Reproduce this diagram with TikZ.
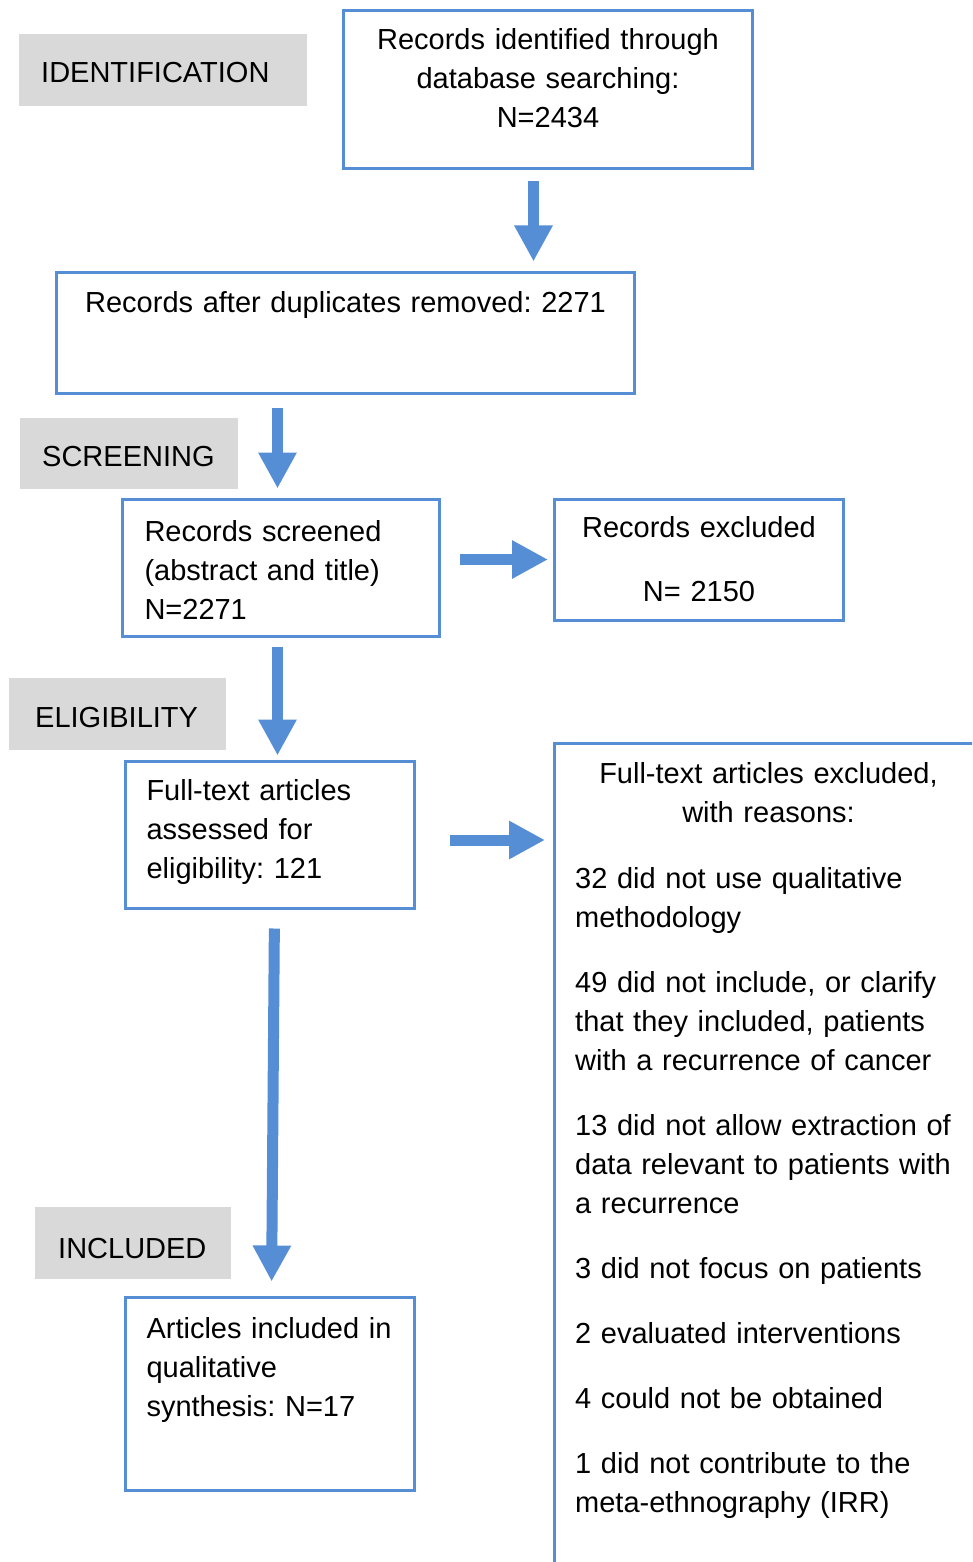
\documentclass[tikz,border=0pt]{standalone}
\usepackage{fontspec}
\setmainfont{Liberation Sans}
\usetikzlibrary{arrows.meta}
\definecolor{flowblue}{RGB}{85,142,213}
\frenchspacing

\begin{document}
\begin{tikzpicture}[x=1pt, y=-1pt,
    txt/.style={font=\fontsize{29}{39}\selectfont, inner xsep=22pt, inner ysep=0pt, anchor=base west},
    box/.style={txt, draw=flowblue, line width=3pt},
    stage/.style={txt, fill=black!15, align=left},
    fat/.style={draw=flowblue, line width=11pt, -{Triangle[length=36pt, width=36pt]}}]
    \useasboundingbox (0,0) rectangle (972,1562);
    \clip (0,0) rectangle (972,1562);
    % Stage labels
    \node[stage, text width=244pt, text height=49pt, text depth=23pt] (ident) at (19,83) {IDENTIFICATION};
    \node[stage, text width=174pt, text height=48pt, text depth=23pt] (screen) at (20,466) {SCREENING};
    \node[stage, inner xsep=26pt, text width=165pt, text height=49pt, text depth=23pt] (elig) at (9,727) {ELIGIBILITY};
    \node[stage, inner xsep=23pt, text width=150pt, text height=51pt, text depth=21pt] (incl) at (35,1258) {INCLUDED};
    % Flow boxes
    \node[box, align=center, text width=365pt, text height=39pt, text depth=119pt] (found) at (342,50) {Records identified through\\ database searching:\\ N=2434};
    \node[box, align=center, text width=534pt, text height=40pt, text depth=81pt] (dedup) at (55,312) {Records after duplicates removed: 2271};
    \node[box, align=left, text width=273pt, text height=42pt, text depth=95pt] (screened) at (121,541) {Records screened\\ (abstract and title)\\ N=2271};
    \node[box, align=center, text width=245pt, text height=38pt, text depth=83pt] (excl) at (553,537) {Records excluded\\[25pt] N= 2150};
    \node[box, align=left, inner xsep=21pt, text width=247pt, text height=39pt, text depth=108pt] (full) at (124,800) {Full-text articles\\ assessed for\\ eligibility: 121};
    \node[box, align=left, inner xsep=21pt, text width=247pt, text height=41pt, text depth=152pt] (inclbox) at (124,1338) {Articles included in\\ qualitative\\ synthesis: N=17};
    % Exclusion reasons
    \node[box, align=center, text width=384pt, text height=40pt, text depth=860pt] (reasons) at (553,783) {Full-text articles excluded,\\ with reasons:};
    \node[txt, inner xsep=0pt, align=left, text width=395pt] (reasonlist) at (575,888) {32 did not use qualitative\\ methodology\\[26pt]
        49 did not include, or clarify\\ that they included, patients\\ with a recurrence of cancer\\[26pt]
        13 did not allow extraction of\\ data relevant to patients with\\ a recurrence\\[26pt]
        3 did not focus on patients\\[26pt]
        2 evaluated interventions\\[26pt]
        4 could not be obtained\\[26pt]
        1 did not contribute to the\\ meta-ethnography (IRR)};
    % Arrows
    \coordinate (a1) at ([xshift=-14.5pt]found.south);
    \draw[fat, shorten <=11pt, shorten >=9pt] (a1) -- (a1 |- dedup.north);
    \coordinate (a2) at ([xshift=-68pt]dedup.south);
    \draw[fat, shorten <=13pt, shorten >=9pt] (a2) -- (a2 |- screened.north);
    \draw[fat, shorten <=19pt, shorten >=5pt] (screened.east |- excl.west) -- (excl.west);
    \coordinate (a3) at ([xshift=-3.5pt]screened.south);
    \draw[fat, shorten <=9pt, shorten >=4pt] (a3) -- (a3 |- full.north);
    \coordinate (a4) at ([yshift=-5.5pt]full.east);
    \draw[fat, shorten <=34pt, shorten >=8pt] (a4) -- (a4 -| reasons.west);
    \coordinate (a5) at ([xshift=4.5pt]full.south);
    \coordinate (a6) at ([xshift=1.5pt]inclbox.north);
    \draw[fat, shorten <=19pt, shorten >=14pt] (a5) -- (a6);
\end{tikzpicture}
\end{document}
